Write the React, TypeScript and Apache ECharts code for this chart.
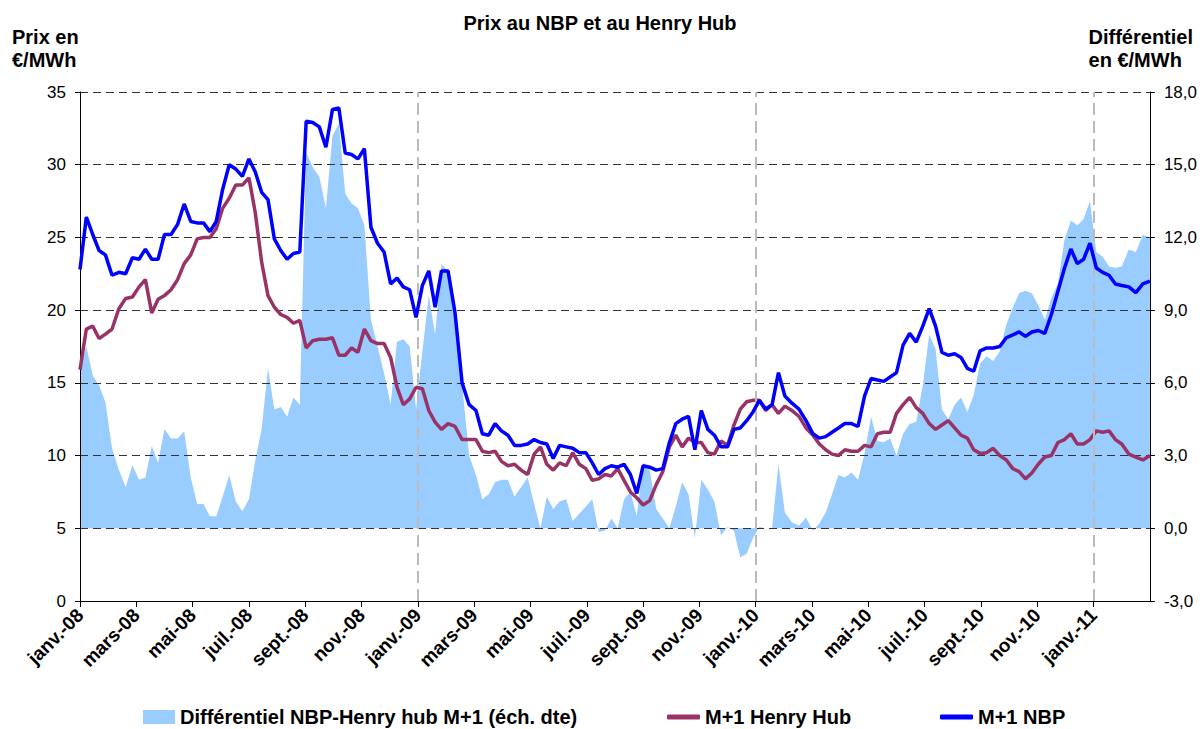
import React, { useEffect, useRef } from "react";
import * as echarts from "echarts";

// Weekly observations, starting 1 Jan 2008, one value per week (166 weeks, to 1 Mar 2011)
const START_YEAR = 2008;
const START_UTC = Date.UTC(2008, 0, 1);
const WEEK_DAYS = 7;

const MONTH_NAMES = ["janv.", "févr.", "mars", "avr.", "mai", "juin", "juil.", "août", "sept.", "oct.", "nov.", "déc."];

const LEFT_TICKS = { min: 0, max: 35, interval: 5 };
const RIGHT_TICKS = { min: -3, max: 18, interval: 3 };

// M+1 NBP (€/MWh)
const nbp = [
  22.8, 26.4, 25.2, 24.1, 23.8, 22.4, 22.6, 22.5, 23.6, 23.5,
  24.2, 23.5, 23.5, 25.2, 25.2, 25.9, 27.3, 26.1, 26.0, 26.0,
  25.4, 26.1, 28.3, 30.0, 29.7, 29.2, 30.4, 29.5, 28.1, 27.6,
  24.9, 24.1, 23.5, 23.9, 24.0, 33.0, 32.9, 32.6, 31.2, 33.8,
  33.9, 30.8, 30.7, 30.4, 31.1, 25.7, 24.6, 24.0, 21.8, 22.2,
  21.6, 21.4, 19.5, 21.7, 22.7, 20.2, 22.7, 22.7, 19.8, 15.0,
  13.5, 13.1, 11.5, 11.4, 12.2, 11.7, 11.4, 10.7, 10.7, 10.8,
  11.1, 10.9, 10.8, 9.8, 10.7, 10.6, 10.5, 10.2, 10.2, 9.5,
  8.7, 9.1, 9.3, 9.2, 9.4, 8.7, 7.4, 9.3, 9.2, 9.0,
  9.1, 10.9, 12.2, 12.5, 12.7, 10.4, 13.1, 11.8, 11.4, 10.6,
  10.6, 11.8, 11.9, 12.4, 13.0, 13.8, 13.2, 13.5, 15.7, 14.1,
  13.6, 13.2, 12.4, 11.5, 11.2, 11.3, 11.6, 11.9, 12.2, 12.2,
  12.0, 14.1, 15.3, 15.2, 15.1, 15.4, 15.7, 17.6, 18.4, 17.8,
  18.9, 20.1, 18.9, 17.1, 16.9, 17.0, 16.75, 16.0, 15.8, 17.2,
  17.4, 17.4, 17.5, 18.1, 18.3, 18.5, 18.2, 18.5, 18.6, 18.4,
  19.7, 21.3, 22.9, 24.2, 23.2, 23.5, 24.6, 22.9, 22.6, 22.4,
  21.8, 21.7, 21.6, 21.2, 21.8, 22.0,
];

// M+1 Henry Hub (€/MWh)
const henryHub = [
  15.9, 18.7, 18.9, 18.05, 18.35, 18.7, 20.1, 20.8, 20.9, 21.6,
  22.1, 19.8, 20.75, 21.0, 21.4, 22.1, 23.2, 23.8, 24.9, 25.0,
  25.0, 25.6, 27.0, 27.7, 28.6, 28.6, 29.1, 26.7, 23.3, 21.0,
  20.2, 19.7, 19.5, 19.1, 19.3, 17.4, 17.9, 18.0, 18.0, 18.1,
  16.9, 16.9, 17.4, 17.1, 18.7, 17.9, 17.7, 17.7, 16.75, 14.7,
  13.5, 13.9, 14.7, 14.6, 13.1, 12.3, 11.8, 12.2, 12.0, 11.1,
  11.1, 11.1, 10.3, 10.2, 10.3, 9.6, 9.3, 9.4, 9.0, 8.7,
  10.1, 10.6, 9.4, 9.0, 9.5, 9.3, 10.2, 9.4, 9.1, 8.3,
  8.4, 8.7, 8.6, 9.1, 8.3, 7.5, 7.1, 6.6, 6.9, 8.0,
  8.9, 10.6, 11.4, 10.6, 11.2, 10.9, 10.9, 10.2, 10.1, 11.0,
  10.7, 12.1, 13.2, 13.7, 13.8, 13.8, 13.1, 13.5, 12.9, 13.4,
  13.1, 12.7, 11.9, 11.4, 10.8, 10.4, 10.1, 10.0, 10.4, 10.3,
  10.3, 10.7, 10.6, 11.5, 11.6, 11.6, 12.9, 13.5, 14.0, 13.3,
  12.9, 12.2, 11.8, 12.1, 12.4, 11.9, 11.4, 11.2, 10.4, 10.15,
  10.2, 10.5, 10.0, 9.7, 9.1, 8.9, 8.4, 8.8, 9.4, 9.9,
  10.0, 10.9, 11.1, 11.5, 10.8, 10.8, 11.1, 11.7, 11.6, 11.7,
  11.1, 10.8, 10.1, 9.9, 9.7, 10.0,
];

// Différentiel NBP-Henry hub M+1 (right axis, €/MWh)
const differential = [
  6.6, 7.5, 6.3, 5.9, 5.2, 3.3, 2.4, 1.7, 2.6, 2.0,
  2.1, 3.4, 2.7, 4.1, 3.7, 3.7, 4.0, 2.1, 1.0, 1.0,
  0.5, 0.5, 1.3, 2.2, 1.1, 0.7, 1.2, 2.8, 4.1, 6.6,
  4.9, 5.0, 4.6, 5.4, 5.1, 15.5, 14.9, 14.5, 13.2, 16.2,
  16.7, 13.8, 13.4, 13.2, 12.5, 8.6, 7.5, 6.4, 5.1, 7.7,
  7.8, 7.5, 4.9, 7.3, 9.6, 8.0, 10.9, 10.6, 8.6, 5.9,
  3.0, 2.2, 1.2, 1.4, 1.9, 2.0, 2.0, 1.3, 1.7, 2.1,
  1.0, 0.0, 1.3, 0.8, 1.1, 1.2, 0.3, 0.6, 0.9, 1.2,
  -0.15, -0.1, 0.4, 0.0, 1.2, 1.5, 0.5, 2.7, 2.4, 0.8,
  0.4, 0.0, 0.9, 1.9, 1.4, -0.4, 2.0, 1.6, 1.1, -0.3,
  0.05, -0.1, -1.2, -1.05, -0.4, 0.05, 0.0, 0.0, 2.65, 0.65,
  0.25, 0.1, 0.45, -0.1, 0.2, 0.65, 1.4, 2.2, 2.1, 2.3,
  2.0, 3.1, 4.6, 3.6, 3.55, 3.7, 3.0, 3.9, 4.3, 4.4,
  5.9, 8.0, 7.4, 4.9, 4.5, 5.1, 5.4, 4.8, 5.5, 6.8,
  7.1, 6.9, 7.3, 8.4, 9.1, 9.7, 9.8, 9.7, 9.2, 8.6,
  9.5, 10.1, 11.9, 12.7, 12.5, 12.75, 13.5, 11.4, 11.2, 10.8,
  10.75, 10.8, 11.5, 11.4, 12.1, 12.0,
];

// January separators (month index from janv.-08)
const yearStarts = [12, 24, 36];

const SERIES_NAMES = {
  diff: "Différentiel NBP-Henry hub M+1 (éch. dte)",
  hh: "M+1 Henry Hub",
  nbp: "M+1 NBP",
};

const FONT = '"Liberation Sans", Arial, sans-serif';

// date of week i -> fractional month index since janv.-08
function monthPos(i: number): number {
  const d = new Date(START_UTC + i * WEEK_DAYS * 86400000);
  const y = d.getUTCFullYear();
  const m = d.getUTCMonth();
  const dim = new Date(Date.UTC(y, m + 1, 0)).getUTCDate();
  return (y - START_YEAR) * 12 + m + (d.getUTCDate() - 1) / dim;
}

function toPoints(arr: number[]): [number, number][] {
  return arr.map((v, i) => [monthPos(i), v]);
}

const legendText = { fontFamily: FONT, fontSize: 20, fontWeight: "bold", color: "#000" };

export default function App() {
  const ref = useRef<HTMLDivElement>(null);

  useEffect(() => {
    document.body.style.margin = "0";
    if (!ref.current) return;
    const chart = echarts.init(ref.current, undefined, { renderer: "svg" });
    const option: any = {
      animation: false,
      backgroundColor: "#ffffff",
      title: {
        text: "Prix au NBP et au Henry Hub",
        left: "center",
        top: 8,
        textStyle: { fontFamily: FONT, fontSize: 20, fontWeight: "bold", color: "#000" },
      },
      graphic: [
        {
          type: "text",
          left: 12,
          top: 25,
          style: {
            text: "Prix en\n€/MWh",
            font: `bold 20px ${FONT}`,
            lineHeight: 23,
            fill: "#000",
          },
        },
        {
          type: "text",
          right: 7,
          top: 25,
          style: {
            text: "Différentiel\nen €/MWh",
            font: `bold 20px ${FONT}`,
            lineHeight: 23,
            fill: "#000",
            align: "right",
          },
        },
      ],
      legend: [
        {
          data: [{ name: SERIES_NAMES.diff, icon: "rect" }],
          left: 138,
          top: 702,
          itemWidth: 32,
          itemHeight: 14,
          textStyle: legendText,
        },
        {
          data: [{ name: SERIES_NAMES.hh, icon: "roundRect" }],
          left: 662,
          top: 702,
          itemWidth: 33,
          itemHeight: 5,
          textStyle: legendText,
        },
        {
          data: [{ name: SERIES_NAMES.nbp, icon: "roundRect" }],
          left: 935,
          top: 702,
          itemWidth: 33,
          itemHeight: 5,
          textStyle: legendText,
        },
      ],
      grid: { left: 80, right: 50, top: 92, bottom: 128, containLabel: false },
      xAxis: {
        type: "value",
        min: 0,
        max: 38,
        interval: 2,
        axisLine: { show: true, lineStyle: { color: "#000", width: 1 } },
        axisTick: { show: true, length: 6, lineStyle: { color: "#000" } },
        splitLine: { show: false },
        axisLabel: {
          rotate: 45,
          margin: 11,
          showMaxLabel: false,
          fontFamily: FONT,
          fontSize: 19,
          fontWeight: "bold",
          color: "#000",
          formatter: (v: number) => {
            const idx = Math.round(v);
            const y = START_YEAR + Math.floor(idx / 12);
            return `${MONTH_NAMES[idx % 12]}-${String(y).slice(2)}`;
          },
        },
      },
      yAxis: [
        {
          type: "value",
          min: LEFT_TICKS.min,
          max: LEFT_TICKS.max,
          interval: LEFT_TICKS.interval,
          z: 3,
          axisLine: { show: true, lineStyle: { color: "#000", width: 1 } },
          axisTick: { show: true, length: 5, lineStyle: { color: "#000" } },
          axisLabel: { margin: 14, fontFamily: FONT, fontSize: 17, color: "#000" },
          splitLine: {
            show: true,
            showMinLine: false,
            lineStyle: { color: "#333", type: [8, 5], width: 1 },
          },
        },
        {
          type: "value",
          min: RIGHT_TICKS.min,
          max: RIGHT_TICKS.max,
          interval: RIGHT_TICKS.interval,
          position: "right",
          z: 3,
          axisLine: { show: true, lineStyle: { color: "#000", width: 1 } },
          axisTick: { show: true, length: 5, lineStyle: { color: "#000" } },
          axisLabel: {
            margin: 14,
            fontFamily: FONT,
            fontSize: 17,
            color: "#000",
            formatter: (v: number) => v.toFixed(1).replace(".", ","),
          },
          splitLine: { show: false },
        },
      ],
      series: [
        {
          name: SERIES_NAMES.diff,
          type: "line",
          yAxisIndex: 1,
          data: toPoints(differential),
          showSymbol: false,
          symbol: "none",
          z: 2,
          color: "#99CCFF",
          lineStyle: { width: 0, color: "#99CCFF" },
          areaStyle: { color: "#99CCFF", opacity: 1 },
          markLine: {
            silent: true,
            symbol: ["none", "none"],
            label: { show: false },
            lineStyle: { color: "#BBBBBB", type: [12, 6], width: 2 },
            data: yearStarts.map((m) => ({ xAxis: m })),
          },
        },
        {
          name: SERIES_NAMES.hh,
          type: "line",
          data: toPoints(henryHub),
          showSymbol: false,
          symbol: "none",
          z: 4,
          color: "#993366",
          lineStyle: { width: 3.5, color: "#993366" },
        },
        {
          name: SERIES_NAMES.nbp,
          type: "line",
          data: toPoints(nbp),
          showSymbol: false,
          symbol: "none",
          z: 5,
          color: "#0000FF",
          lineStyle: { width: 3.5, color: "#0000FF" },
        },
      ],
    };
    chart.setOption(option);
    return () => chart.dispose();
  }, []);

  return <div ref={ref} style={{ width: 1200, height: 729 }} />;
}
